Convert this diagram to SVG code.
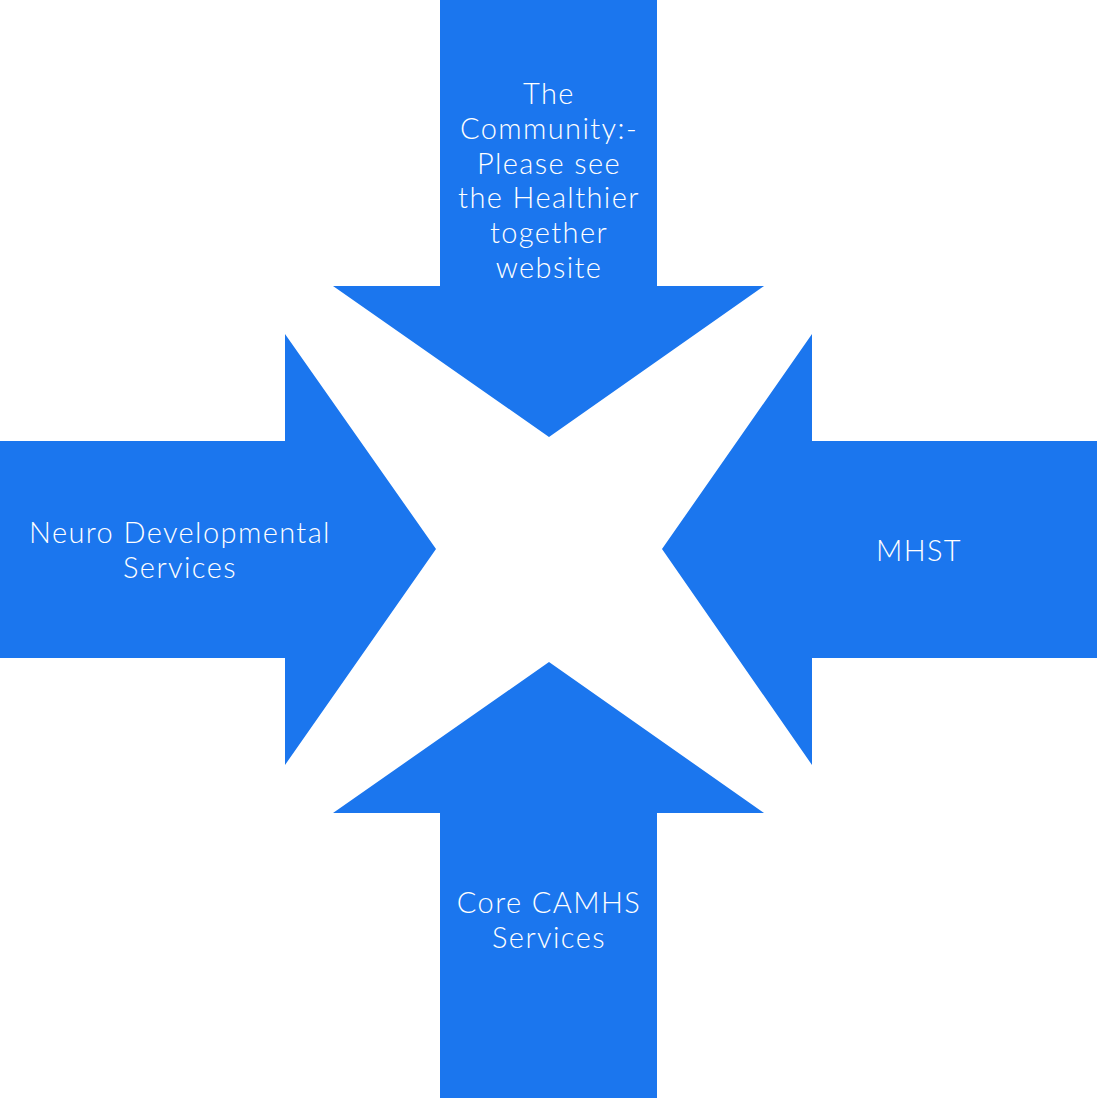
<svg xmlns="http://www.w3.org/2000/svg" width="1097" height="1100" viewBox="0 0 1097 1100">
<style>
.arrow{fill:#1b76ee;}
.lbl{fill:#ffffff;font-family:Lato,"Open Sans","Liberation Sans",sans-serif;font-weight:300;font-size:29px;text-anchor:middle;letter-spacing:1.4px;}
</style>
<rect width="1097" height="1100" fill="#ffffff"/>
<g id="connectors"></g>
<g id="top">
<polygon class="arrow" points="440,0 657,0 657,286 764,286 549,437 333,286 440,286"/>
<text class="lbl" x="549" y="104">The</text>
<text class="lbl" x="549" y="139">Community:-</text>
<text class="lbl" x="549" y="174">Please see</text>
<text class="lbl" x="549" y="208">the Healthier</text>
<text class="lbl" x="549" y="243">together</text>
<text class="lbl" x="549" y="278">website</text>
</g>
<g id="left">
<polygon class="arrow" points="0,441 285,441 285,334 436,549 285,765 285,658 0,658"/>
<text class="lbl" x="180" y="543">Neuro Developmental</text>
<text class="lbl" x="180" y="578">Services</text>
</g>
<g id="right">
<polygon class="arrow" points="1097,441 812,441 812,334 662,549 812,765 812,658 1097,658"/>
<text class="lbl" x="919" y="561">MHST</text>
</g>
<g id="bottom">
<polygon class="arrow" points="440,1098 657,1098 657,813 764,813 549,662 333,813 440,813"/>
<text class="lbl" x="549" y="913">Core CAMHS</text>
<text class="lbl" x="549" y="948">Services</text>
</g>
</svg>
